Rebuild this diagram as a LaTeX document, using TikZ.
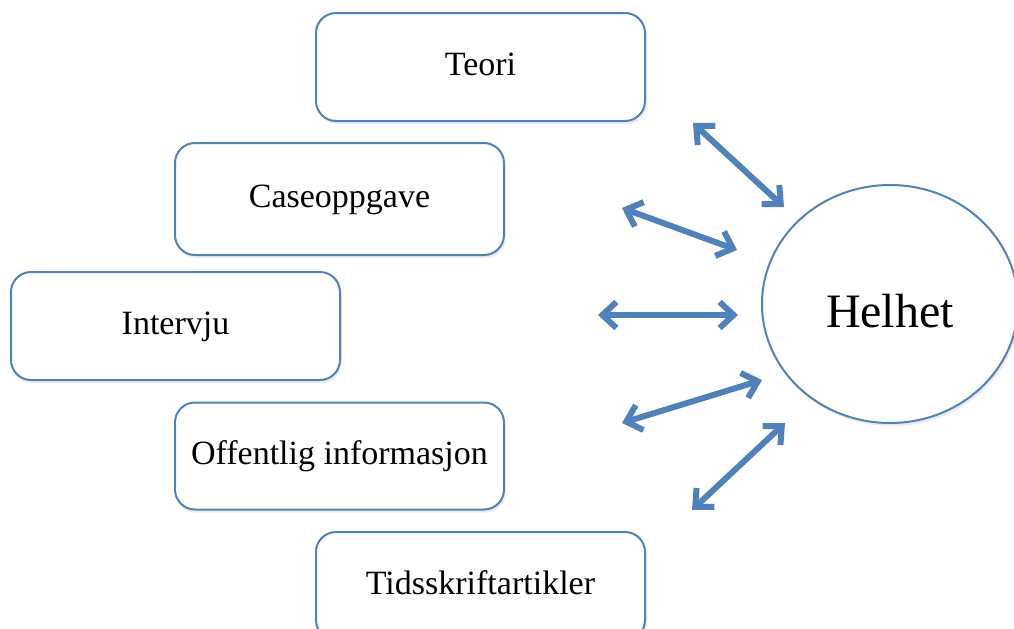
\documentclass[tikz,border=0pt]{standalone}
\usepackage{fontspec}
\setmainfont{Liberation Serif}
\usetikzlibrary{arrows.meta,shadows,shapes.geometric}
\definecolor{boksblaa}{HTML}{4F81BD}
\tikzset{
  skygge/.style={drop shadow={shadow xshift=0.8pt,shadow yshift=-1.6pt,opacity=0.15}},
  boks/.style={draw=boksblaa,line width=1pt,fill=white,rounded corners=10pt,
    minimum width=164.5pt,minimum height=54pt,text height=12pt,text depth=4pt,
    font=\fontsize{17}{20}\selectfont,skygge},
  pil/.style={draw=boksblaa,line width=3pt,line cap=round,
    {Straight Barb[length=7pt,width=13pt]}-{Straight Barb[length=7pt,width=13pt]}}
}
\begin{document}
\begin{tikzpicture}[x=0.5pt,y=-0.5pt]
   \useasboundingbox (0,0) rectangle (1014,628);

   \node[boks] (teori) at (480.5,67) {Teori};
   \node[boks,minimum height=56pt] (case) at (339.5,199) {Caseoppgave};
   \node[boks] (intervju) at (175.5,326) {Intervju};
   \node[boks,minimum height=53.5pt] (offentlig) at (339.5,456) {Offentlig informasjon};
   \node[boks] (tidsskrift) at (480.5,586) {Tidsskriftartikler};

   \node[ellipse,draw=boksblaa,line width=1pt,fill=white,inner sep=0pt,
     minimum width=128pt,minimum height=119pt,text height=23pt,text depth=0pt,
     font=\fontsize{24}{28}\selectfont,skygge] (helhet) at (890,304) {Helhet};

   \coordinate (t1) at (693,123);  \coordinate (h1) at (784,207);
   \coordinate (t2) at (622,208);  \coordinate (h2) at (737,250);
   \coordinate (t3) at (598,315);  \coordinate (h3) at (738,315);
   \coordinate (t4) at (622,423);  \coordinate (h4) at (762,380);
   \coordinate (t5) at (692,510);  \coordinate (h5) at (785,423);

   \draw[pil] (t1) -- (h1);
   \draw[pil] (t2) -- (h2);
   \draw[pil] (t3) -- (h3);
   \draw[pil] (t4) -- (h4);
   \draw[pil] (t5) -- (h5);
\end{tikzpicture}
\end{document}
